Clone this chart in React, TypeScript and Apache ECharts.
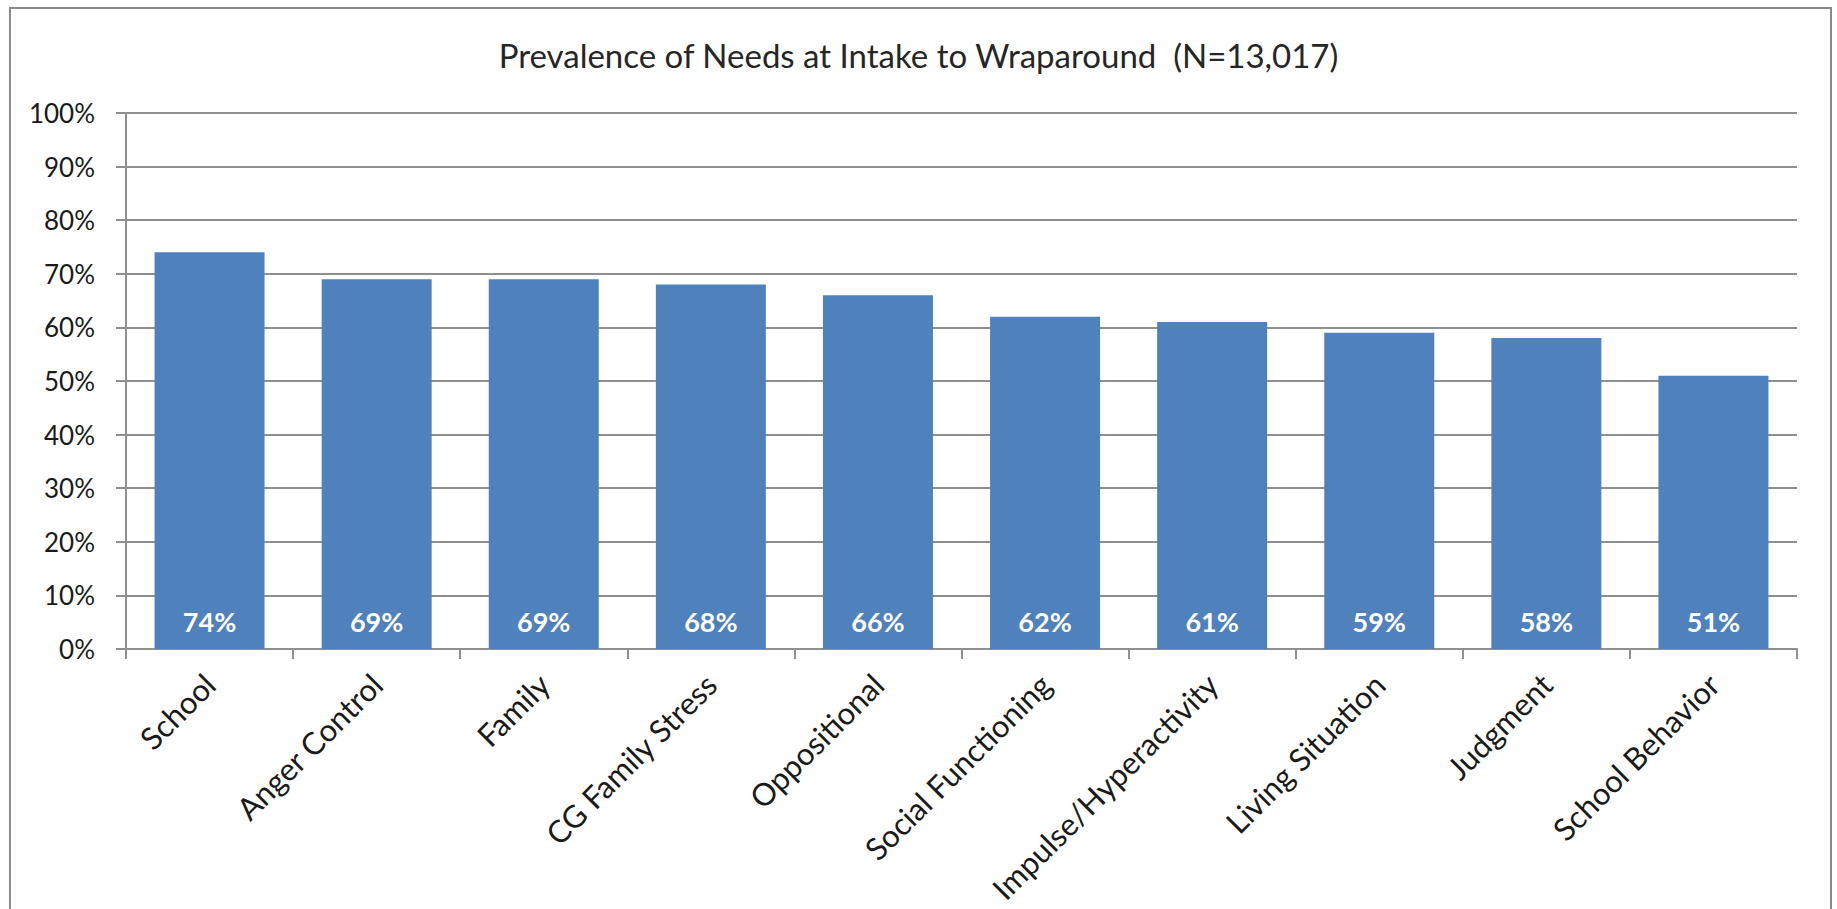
import React, { useEffect, useRef } from "react";
import * as echarts from "echarts";

// Needs and the share of youth with each need at intake
const categories = [
  "School",
  "Anger Control",
  "Family",
  "CG Family Stress",
  "Oppositional",
  "Social Functioning",
  "Impulse/Hyperactivity",
  "Living Situation",
  "Judgment",
  "School Behavior",
];
const prevalence = [74, 69, 69, 68, 66, 62, 61, 59, 58, 51];

const yTicks = [0, 10, 20, 30, 40, 50, 60, 70, 80, 90, 100];
const titleText = "Prevalence of Needs at Intake to Wraparound  (N=13,017)";

const FONT = "Lato, 'Open Sans', sans-serif";
const GRID_GRAY = "#8f8f8f";
const BAR_BLUE = "#4f81bd";

export default function App() {
  const ref = useRef<HTMLDivElement>(null);

  useEffect(() => {
    if (!ref.current) return;
    const chart = echarts.init(ref.current, undefined, { renderer: "svg" });
    chart.setOption({
      animation: false,
      backgroundColor: "#ffffff",
      title: {
        text: titleText,
        left: "center",
        top: 33,
        textStyle: {
          fontFamily: FONT,
          fontSize: 33,
          fontWeight: "normal",
          color: "#262626",
        },
      },
      graphic: [
        {
          type: "rect",
          silent: true,
          shape: { x: 10, y: 8, width: 1821, height: 1000 },
          style: { fill: "none", stroke: "#8a8a8a", lineWidth: 2 },
        },
      ],
      grid: { left: 126, right: 40, top: 113, height: 536, containLabel: false },
      xAxis: {
        type: "category",
        data: categories,
        boundaryGap: true,
        axisLine: { show: true, lineStyle: { color: GRID_GRAY, width: 2 } },
        axisTick: { show: true, length: 10, lineStyle: { color: GRID_GRAY, width: 2 } },
        axisLabel: {
          rotate: 45,
          margin: 30,
          interval: 0,
          fontFamily: FONT,
          fontSize: 31,
          color: "#1a1a1a",
        },
      },
      yAxis: {
        type: "value",
        min: yTicks[0],
        max: yTicks[yTicks.length - 1],
        interval: 10,
        axisLine: { show: true, lineStyle: { color: GRID_GRAY, width: 2 } },
        axisTick: { show: true, length: 10, lineStyle: { color: GRID_GRAY, width: 2 } },
        splitLine: { show: true, lineStyle: { color: GRID_GRAY, width: 2 } },
        axisLabel: {
          margin: 31,
          fontFamily: FONT,
          fontSize: 26,
          color: "#1a1a1a",
          formatter: (v: number) => `${v}%`,
        },
      },
      series: [
        {
          type: "bar",
          data: prevalence,
          barWidth: 110,
          itemStyle: { color: BAR_BLUE },
          label: {
            show: true,
            position: "insideBottom",
            distance: 14,
            fontFamily: FONT,
            fontSize: 27,
            fontWeight: "bold",
            color: "#ffffff",
            formatter: (p: any) => `${p.value}%`,
          },
        },
      ],
    });
    return () => chart.dispose();
  }, []);

  return (
    <div
      ref={ref}
      style={{ position: "fixed", left: 0, top: 0, width: 1837, height: 909 }}
    />
  );
}
